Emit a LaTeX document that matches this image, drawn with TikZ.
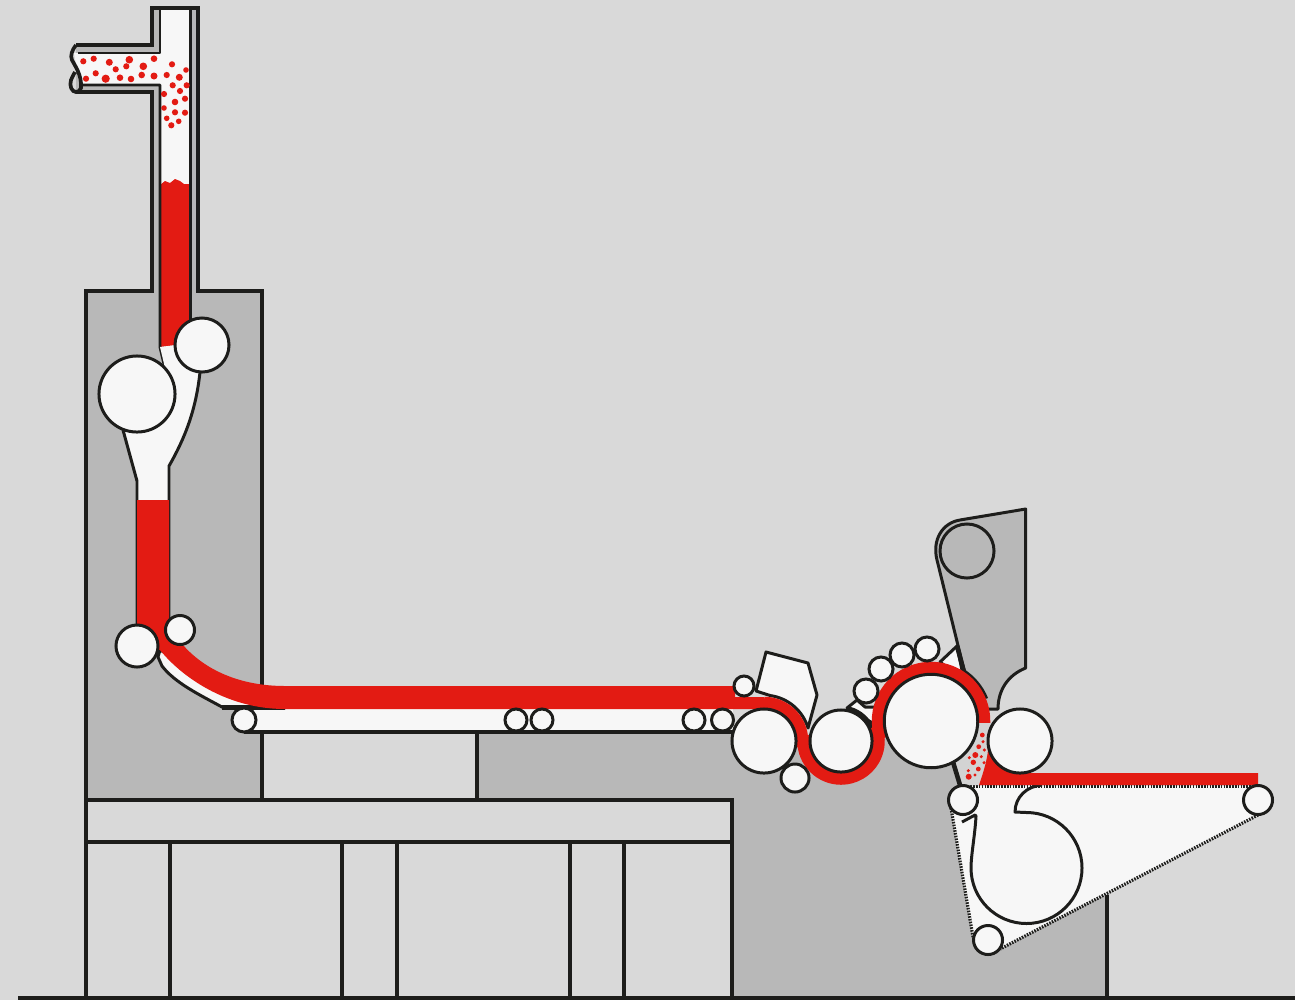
\documentclass[tikz,border=0pt]{standalone}
\usepackage{xcolor}
\usepackage{tikz}
\definecolor{Backdrop}{HTML}{D9D9D9}
\definecolor{Housing}{HTML}{B8B8B8}
\definecolor{Paper}{HTML}{F7F7F7}
\definecolor{Pool}{HTML}{D3D3D3}
\definecolor{Ink}{HTML}{1D1D1B}
\definecolor{Flow}{HTML}{E31B13}

\begin{document}
\begin{tikzpicture}[
    x=0.01cm, y=0.01cm, yscale=-1,
    frame/.style={draw=Ink, line width=1.05pt},
    rim/.style={draw=Ink, line width=0.85pt, line join=round},
    wire/.style={draw=Ink, line width=0.9pt, dash pattern=on 0.45pt off 0.35pt},
    roller/.style={circle, draw=Ink, fill=Paper, line width=0.85pt, inner sep=0pt, minimum size=#1*0.02cm}
]
\useasboundingbox (0,0) rectangle (1295,1000);
\fill[Backdrop] (0,0) rectangle (1295,1000);

% Housing
\fill[Housing] (477,733) -- (764,733) -- (764,741) -- (841,741) -- (931,721) -- (955,762) -- (960,790) -- (951,810) -- (973,940) -- (1107,895) -- (1107,998) -- (477,998) -- cycle;
\fill[Housing] (86,291) rectangle (262,800);

% Base
\draw[frame, fill=Backdrop] (86,800) rectangle (732,842);
\draw[frame, fill=Backdrop] (86,842) rectangle (732,998);
\draw[frame] (170,842) -- (170,998);
\draw[frame] (342,842) -- (342,998);
\draw[frame] (397,842) -- (397,998);
\draw[frame] (570,842) -- (570,998);
\draw[frame] (624,842) -- (624,998);
\draw[frame] (477,733) -- (477,800);
\draw[frame] (1107,895) -- (1107,998);
\draw[frame] (18,998) -- (1295,998);

% Feed pipe
\fill[Housing] (76,45) -- (152,45) -- (152,8) -- (198,8) -- (198,300) -- (152,300) -- (152,92) -- (76,92) -- cycle;
\fill[Paper] (74,53) -- (160,53) -- (160,8) -- (190,8) -- (190,340) -- (160,340) -- (160,85) -- (80,85) -- cycle;
\fill[Flow] (160,347) -- (160,185) -- (165,181) -- (170,183) -- (175,179) -- (180,181) -- (184,184) -- (190,184) -- (190,320) -- (176,345) -- cycle;
\draw[frame, line join=miter] (86,800) -- (86,291) -- (152,291) -- (152,92) -- (76,92);
\draw[frame, line join=miter] (76,45) -- (152,45) -- (152,8) -- (198,8) -- (198,291) -- (262,291) -- (262,800);
\draw[rim] (78,53) -- (160,53) -- (160,8);
\draw[rim] (80,85) -- (160,85) -- (160,347) -- (165,368);
\draw[rim] (190.5,8) -- (190.5,322);
\draw[frame] (76,45) .. controls (72,50) and (70,56) .. (72,60) .. controls (75,66) and (82,75) .. (81,88) .. controls (80,91) and (78,92) .. (76,92) .. controls (72,92) and (69,86) .. (71,80) .. controls (72,77) and (74,74) .. (75,72);
\fill[Flow] (83.3,61.3) circle (3.1) (93.7,58.7) circle (3.1) (109.3,62.3) circle (3.5) (129.3,59.7) circle (3.8)
    (115.7,69.3) circle (3.1) (126.3,66.3) circle (3.1) (143.3,66.3) circle (3.8) (154,58.7) circle (3.3)
    (172,64.3) circle (3.1) (186,70) circle (2.8) (86,78.7) circle (3.1) (95.7,73.3) circle (3.1)
    (105.7,78.7) circle (4.1) (120,77.7) circle (3.3) (131,79) circle (3.3) (141.7,75) circle (3.3)
    (154,76) circle (3.5) (166.7,75) circle (3.1) (179.3,77.3) circle (3.5) (172.7,85.3) circle (3.1)
    (186.7,85.3) circle (3.1) (180,91) circle (3.1) (164,94) circle (3.1) (185,98.7) circle (3.1)
    (175,102) circle (3.3) (164,108) circle (2.8) (175,112.3) circle (3.1) (185,112.7) circle (3.1)
    (166.7,118.3) circle (2.8) (178.7,121.3) circle (2.8) (171.3,125.3) circle (3.1);

% Funnel
\fill[Paper] (160,347) -- (176,345) -- (200,372) .. controls (196,410) and (185,438) .. (169,466) -- (169,500) -- (137,500) -- (137,481) -- (123,430) -- (165,368) -- cycle;
\draw[rim] (200,372) .. controls (196,410) and (185,438) .. (169,466) -- (169,630);
\draw[rim] (123,430) -- (137,481) -- (137,630);

% Table
\fill[Paper] (244,709) rectangle (733,732);
\draw[frame] (244,732) -- (733,732);
\draw[rim, fill=Paper] (160,650) -- (158,657) -- (162,666) .. controls (175,683) and (200,695) .. (222,707) -- (285,708) -- (240,690) -- cycle;
\draw[frame, line width=1.4pt] (222,707.5) -- (285,707.5);

% Stream
\fill[Flow] (137,500) -- (169,500) -- (169,628) -- (183,645) .. controls (205,670) and (240,686) .. (285,686) -- (735,686) -- (735,697) -- (764,697) -- (764,709) -- (285,709) .. controls (225,709) and (180,675) .. (160,650) -- (137,640) -- cycle;

% Shoe
\draw[rim, fill=Paper] (756,691) -- (766,652) -- (808,663) -- (817,695) -- (808,728) arc (-16.5:-82:45.9) -- cycle;
\draw[rim, fill=Paper] (847,708) -- (857,700) -- (865,707) -- (876,707) -- (876,725) -- cycle;
\draw[draw=Ink, line width=1.4pt] (841,741) ++(-75:33) arc (-75:-20:33);

% Doctor arm
\draw[rim, fill=Paper] (940,662) -- (957,646) -- (964,680) -- cycle;
\draw[rim, fill=Housing] (1025.7,509) -- (1025.7,668) .. controls (1008,675) and (998,690) .. (998,709) -- (985,709) -- (964,670) -- (937,560) .. controls (932,540) and (942,523) .. (960,520) -- cycle;
\draw[draw=Ink, line width=1.3pt] (957,646) -- (964,672);
\draw[rim] (931,721) ++(-57:60) arc (-57:-22:60);

% Wire
\fill[Paper] (951,808) -- (962,786) -- (1258,786) -- (1258,815) -- (1000,949) -- (973,937) -- cycle;
\draw[wire] (962,786) -- (1258,786);
\draw[wire] (1258,815) -- (1000,949);
\draw[wire] (951,808) -- (973,937);
\draw[rim] (962,822) -- (975,815) -- (976,816) .. controls (975,835) and (971,855) .. (971,868) arc (180:-90:55.5) -- (1015,812) .. controls (1015,797) and (1027,786) .. (1042,785);

% Pool
\fill[Pool] (953,762) -- (960,785) -- (979,785) .. controls (985,768) and (988,755) .. (988,748) -- (992,722) -- (975,722) -- cycle;
\draw[frame, line width=1.3pt] (953,762) -- (960,785);
\fill[Flow] (982.3,735) circle (2.4) (983,741.7) circle (1.7) (978.7,746.7) circle (2.4) (984.3,750) circle (1.7)
    (975.3,755) circle (3) (969.3,757.7) circle (1.7) (981.3,756.7) circle (1.7) (973.3,762.3) circle (2.7)
    (984,762.7) circle (1.7) (978.3,769) circle (2.4) (968.3,770.7) circle (1.7) (975,775) circle (1.7) (968.7,776.7) circle (3);

% Web
\draw[Flow, line width=0.125cm] (764,703) arc (-90:0:38) -- (803.5,741) arc (180:-12.5:37.5) -- (879.3,732.5) arc (167.5:362:53);
\fill[Flow] (979,785) .. controls (985,768) and (988,755) .. (988,748) -- (1020,773) -- (1258,773) -- (1258,785) -- cycle;

% Rollers
\node[roller=38] (rollLarge) at (137,394) {};
\node[roller=27] (rollFeed) at (202,345) {};
\node[roller=21] (rollLower) at (137,646) {};
\node[roller=14.5] (rollGuide) at (180,630) {};
\node[roller=12] (tableA) at (244,720) {};
\node[roller=11] (tableB) at (516,720) {};
\node[roller=11] (tableC) at (542,720) {};
\node[roller=11] (tableD) at (694,720) {};
\node[roller=11] (tableE) at (722.5,720) {};
\node[roller=10] (nip) at (744,686) {};
\node[roller=32] (pressA) at (764,741) {};
\node[roller=14] (pressSmall) at (795,778) {};
\node[roller=31] (pressB) at (841,741) {};
\node[roller=46.7] (drum) at (931,721) {};
\node[roller=12] (topA) at (866,691) {};
\node[roller=12] (topB) at (881,669) {};
\node[roller=12] (topC) at (902,655) {};
\node[roller=12] (topD) at (927,649) {};
\node[roller=32] (pressC) at (1020,741) {};
\node[roller=27, fill=Housing] (armRoll) at (967,551) {};
\node[roller=14.5] (wireA) at (963,800) {};
\node[roller=14.5] (wireB) at (1258,800) {};
\node[roller=14.5] (wireC) at (988,940) {};

\end{tikzpicture}
\end{document}
